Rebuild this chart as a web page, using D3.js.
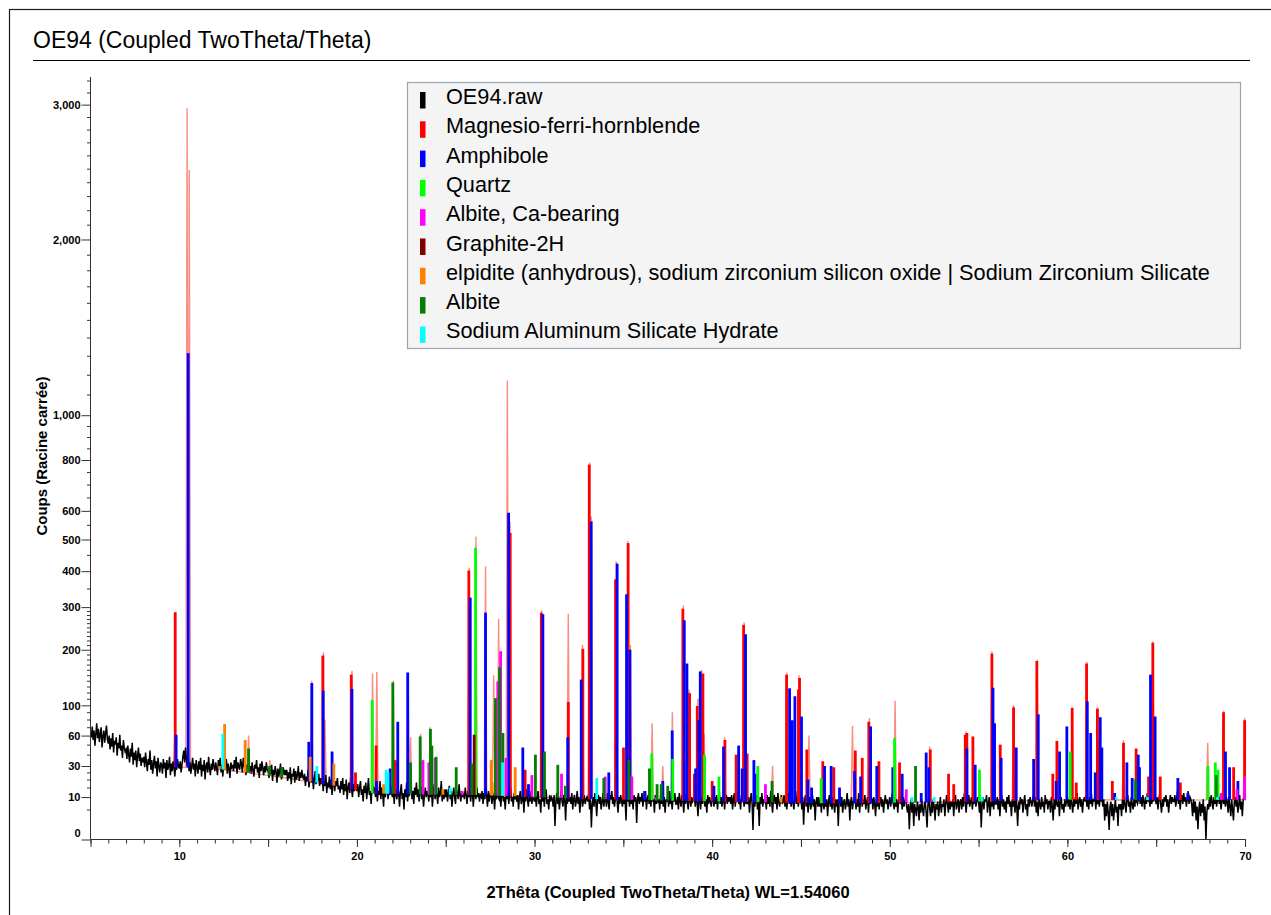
<!DOCTYPE html>
<html>
<head>
<meta charset="utf-8">
<script src="https://cdn.jsdelivr.net/npm/d3@7"></script>
<style>
  html, body { margin: 0; padding: 0; background: #ffffff; }
  svg { display: block; font-family: "Liberation Sans", Arial, Helvetica, sans-serif; }
</style>
</head>
<body>
<svg id="chart" width="1271" height="915"></svg>
<script>
// ---------------------------------------------------------------------------
// Scan OE94.raw : one row of counts per degree 2θ, starting at 5°
// (points are spread evenly across their degree)
// ---------------------------------------------------------------------------
const rawFirstDegree = 5;
const rawRows = [
  [64,58,71,55,66,49,62,75,57,68,53,61,70,47,59,66,52,63,72,56],
  [51,60,45,57,48,63,42,54,50,58,39,52,46,61,44,49,37,55,47,43],
  [45,36,49,40,33,46,38,52,31,42,35,44,29,39,47,34,41,30,37,33],
  [38,29,42,33,26,36,31,44,27,35,24,32,39,28,34,22,37,30,25,33],
  [31,24,36,28,33,21,35,27,30,38,23,32,26,34,29,22,33,27,36,30],
  [28,34,25,31,38,44,33,47,36,29,41,26,33,24,30,37,27,32,22,35],
  [29,24,34,27,37,22,31,26,35,20,30,33,25,38,28,23,32,27,36,30],
  [26,33,28,23,35,29,37,25,31,22,34,27,30,36,24,32,28,21,33,29],
  [31,26,35,28,38,24,33,30,27,36,32,25,37,29,34,23,31,28,35,27],
  [30,24,33,27,22,31,28,35,25,29,21,32,26,34,28,23,30,25,33,27],
  [26,21,29,24,31,19,27,23,30,25,18,28,22,26,32,20,25,29,23,27],
  [23,27,19,25,21,29,17,24,22,28,18,26,20,23,30,19,25,21,27,22],
  [20,24,16,22,19,27,15,21,25,18,23,14,20,26,17,22,19,24,16,21],
  [17,21,13,19,16,23,12,18,15,22,14,20,11,17,24,13,19,16,21,14],
  [16,12,19,14,21,11,17,13,20,9,15,18,12,22,14,10,17,13,19,15],
  [13,17,10,15,19,11,14,8,16,12,18,9,14,21,11,13,7,16,12,15],
  [14,10,17,8,13,11,19,9,15,12,6,16,10,14,18,9,13,11,16,12],
  [10,14,7,16,11,9,15,12,6,13,17,9,12,5,14,10,18,8,13,11],
  [12,16,9,13,7,15,11,18,10,14,8,12,16,9,13,6,11,15,10,13],
  [11,8,15,10,13,6,12,17,9,14,11,7,15,10,12,19,8,13,9,14],
  [10,14,8,12,16,9,13,6,11,15,10,7,14,12,9,17,11,8,13,10],
  [12,9,15,11,7,13,10,16,8,12,14,6,11,13,9,15,10,12,8,11],
  [10,13,7,12,9,15,11,6,13,8,11,14,7,10,12,5,11,9,13,10],
  [9,12,6,11,14,8,10,5,12,9,13,7,11,15,8,10,6,12,9,11],
  [8,11,5,10,13,7,9,12,4,10,8,14,9,6,11,8,13,7,10,9],
  [8,11,6,10,13,7,9,4,11,8,12,6,10,14,7,9,5,11,8,10],
  [9,6,11,1,8,12,7,10,5,9,13,8,6,11,9,2,10,7,12,8],
  [10,7,12,5,9,11,6,8,13,7,10,4,9,12,6,8,11,7,9,10],
  [8,11,5,9,0.8,7,10,6,12,8,3,9,11,7,10,5,8,12,6,9],
  [10,6,12,8,5,11,9,13,7,10,6,9,12,8,4,10,7,11,8,6],
  [11,7,9,2,12,8,10,6,13,7,9,5,11,8,10,1.5,9,12,7,10],
  [8,12,6,10,8,13,5,9,11,7,10,6,12,8,9,4,11,7,10,8],
  [9,5,11,7,12,6,10,4,9,8,11,6,13,7,9,5,10,8,12,7],
  [7,10,5,12,8,6,11,9,4,10,7,12,8,5,9,11,6,10,8,9],
  [10,6,12,8,3,9,11,5,10,7,13,8,6,9,4,11,7,10,8,6],
  [9,12,6,10,7,11,5,9,13,7,10,6,8,12,5,9,11,7,10,8],
  [10,7,11,5,9,12,6,10,8,13,7,9,5,11,8,10,6,12,7,9],
  [7,10,4,9,12,7,0.5,10,6,9,11,5,8,1,10,7,12,6,9,8],
  [9,5,11,7,10,6,13,8,4,9,11,7,10,5,12,8,6,9,11,7],
  [8,11,6,10,5,9,12,7,10,6,11,8,5,9,13,7,10,6,9,8],
  [9,5,10,1.2,8,11,6,9,4,8,10,5,7,11,6,9,2,8,10,6],
  [10,6,9,4,11,7,5,10,6,9,3,8,11,6,9,5,10,7,4,9],
  [6,9,1,8,11,6,10,4,8,9,5,7,12,6,9,2,8,10,5,8],
  [8,11,5,9,6,12,4,8,10,6,9,7,11,5,8,10,4,9,7,10],
  [9,5,10,7,3,9,6,11,5,8,10,6,9,4,8,11,7,9,5,8],
  [10,6,9,12,7,5,10,6,9,4,8,11,7,9,5,10,6,8,11,6],
  [4,7,0.6,6,9,4,8,1,7,5,3,8,6,2,7,4,9,5,3,7],
  [8,4,0.8,7,10,5,3,8,4,9,6,2,7,5,8,3,6,10,4,7],
  [6,9,3,7,11,7,4,10,5,8,6,9,3,8,11,5,7,9,4,8],
  [9,5,10,6,12,8,4,9,7,11,6,8,10,5,9,7,12,6,8,10],
  [8,4,9,0.8,7,10,5,9,8,11,4,7,10,3,8,6,9,5,10,7],
  [7,10,5,9,3,8,11,6,9,5,8,4,10,7,11,6,8,3,9,6],
  [9,4,10,6,1,8,5,10,7,9,4,8,11,5,7,3,9,6,10,8],
  [6,9,11,6,10,4,8,3,9,7,5,10,6,8,4,11,7,9,5,8],
  [8,4,10,6,2,9,5,11,7,6,9,3,8,10,5,7,4,9,6,8],
  [10,6,9,5,11,7,4,9,6,10,7,12,5,8,10,6,9,4,8,10],
  [8,11,6,9,5,10,7,12,6,9,8,11,5,10,7,9,6,11,8,9],
  [6,9,2,7,3,8,4,0.5,6,8,3,7,2,5,9,4,6,1,7,5],
  [7,3,9,5,10,7,4,9,11,6,8,4,10,7,5,9,6,11,8,7],
  [9,12,7,10,6,11,8,5,10,7,12,8,9,6,11,7,10,8,12,9],
  [7,10,5,9,12,7,4,9,6,10,8,11,6,9,4,8,11,7,10,8],
  [8,11,6,9,13,7,10,5,9,11,7,12,8,10,6,9,13,7,10,9],
  [7,3,9,4,8,2,6,0.6,5,8,3,7,4,9,2,6,0,4,7,5],
  [10,6,11,8,5,10,7,12,6,9,11,7,10,5,8,12,7,9,6,10],
  [8,4,10,6,3,9,5,2,8,10,6,9,4,7,11,5,8,3,9,10],
  [9]
];

// Background curve under the calculated profile and the phase sticks
const bgTheta  = [9.4, 10, 12, 14, 16, 18, 20, 21, 24, 27, 30, 33, 37, 42, 47, 50, 55, 60, 65, 70];
const bgCounts = [29, 29, 28, 24.5, 21, 17.5, 13.5, 11.8, 11.2, 11, 10, 9.2, 8.5, 7.8, 7.2, 7.5, 8, 8.8, 8.6, 8.8];

// Calculated profile peaks [2θ, counts]
const profilePeaks = [
  [9.75,68],[10.44,2970],[10.56,2490],[12.50,45],[13.90,60],[15.10,35],[17.45,140],
  [18.12,195],[18.20,80],[19.72,158],[20.88,153],[21.12,156],[22.05,140],[22.88,150],
  [23.02,58],[23.58,62],[24.12,70],[26.32,410],[26.70,510],[27.24,415],[27.70,150],
  [27.98,271],[28.47,1170],[28.62,560],[30.40,292],[31.90,283],[32.70,210],[33.10,790],
  [33.20,580],[34.60,430],[35.25,495],[35.40,210],[36.62,75],[37.22,30],[37.76,90],
  [38.38,305],[38.70,125],[39.20,110],[39.40,160],[39.55,62],[40.70,58],[41.80,262],
  [43.40,30],[44.20,155],[44.90,150],[45.45,60],[47.90,72],[48.85,82],[50.30,107],
  [52.25,48],[54.30,65],[55.75,197],[56.97,100],[58.30,180],[60.27,98],[61.10,175],
  [61.70,98],[63.16,55],[64.82,218],[67.90,52],[68.80,92],[69.98,82]
];

// Phase sticks [2θ, counts at stick top]
const hornblendeSticks = [
  [9.77,287],[18.08,188],[19.68,151],[19.92,25],[21.08,49],[22.16,35],[26.30,402],
  [28.63,522],[29.47,27],[30.38,286],[31.90,105],[32.72,202],[33.08,781],[34.56,376],
  [35.01,47],[35.27,488],[38.35,296],[38.73,119],[39.00,24],[39.16,99],[39.48,153],
  [40.00,19],[40.72,55],[41.35,40],[41.77,256],[41.97,41],[44.19,151],[44.86,125],
  [44.92,145],[45.33,45],[46.23,34],[46.85,29],[48.06,44],[48.45,37],[48.82,77],
  [49.39,34],[50.55,33],[52.28,45],[53.31,24],[53.60,17],[54.25,61],[54.34,63],
  [54.68,59],[55.75,192],[56.22,50],[56.97,97],[58.28,177],[59.18,24],[59.41,54],
  [60.27,96],[60.50,18],[61.08,172],[61.69,95],[61.74,53],[62.53,19],[63.16,52],
  [63.87,46],[64.57,22],[64.81,215],[65.23,22],[66.36,18],[68.79,90],[69.36,29],[69.98,79]
];
const amphiboleSticks = [
  [9.82,61],[10.50,1314],[17.29,53],[17.46,136],[18.10,123],[18.60,43],[19.72,126],
  [21.10,19],[21.87,28],[22.30,77],[22.86,155],[26.38,325],[27.24,286],[28.54,593],
  [29.34,47],[29.66,17],[30.47,282],[31.87,58],[32.63,142],[33.19,562],[34.18,25],
  [34.65,423],[35.18,334],[35.37,200],[36.19,13],[37.22,19],[37.75,66],[38.43,267],
  [38.58,172],[39.07,28],[39.25,79],[39.33,157],[40.10,16],[40.64,48],[41.49,49],
  [41.69,28],[41.88,234],[42.35,35],[42.42,24],[44.36,127],[44.51,79],[44.66,114],
  [45.03,84],[45.39,20],[45.60,15],[46.33,30],[46.70,30],[47.17,15],[48.02,26],
  [48.36,22],[48.92,71],[49.27,30],[50.17,29],[50.70,24],[51.77,12],[52.05,42],
  [52.20,29],[54.34,46],[54.81,31],[55.81,128],[55.90,75],[56.27,37],[57.12,47],
  [58.10,36],[58.36,87],[59.37,19],[59.56,43],[59.97,71],[61.12,106],[61.31,63],
  [61.57,25],[61.85,83],[61.94,47],[62.66,12],[63.35,33],[63.65,21],[63.99,40],
  [64.06,29],[64.68,151],[64.94,84],[66.22,21],[66.78,12],[68.90,43],[69.13,29],[69.60,19]
];
const quartzSticks = [
  [20.86,108],[26.68,473],[36.60,41],[37.78,36],[39.57,40],[40.38,22],[42.57,30],
  [46.14,21],[50.27,57],[55.05,27],[60.16,43],[67.91,30],[68.33,33],[68.48,27]
];
const albiteCaSticks = [
  [14.05,25],[23.72,35],[24.05,33],[24.40,37],[25.93,13],[27.93,139],[28.09,197],
  [28.40,37],[29.85,23],[31.52,24],[33.98,22],[35.48,22],[36.85,10],[43.00,17],
  [50.93,14],[68.66,12],[69.55,14],[69.98,22]
];
const graphiteSticks = [[26.60,61]];
const elpiditeSticks = [
  [12.26,30],[12.55,74],[13.71,55],[17.37,38],[18.70,32],[21.50,17],[24.84,14],
  [27.56,35],[27.62,18],[28.91,29],[43.88,10]
];
const albiteSticks = [
  [13.90,46],[15.08,30],[15.77,29],[22.02,137],[23.02,33],[23.56,59],[24.14,68],
  [24.22,49],[24.46,38],[25.59,29],[26.47,32],[27.80,111],[28.03,165],[28.22,63],
  [30.05,40],[30.56,43],[31.31,31],[31.74,16],[33.90,21],[35.31,35],[36.47,28],
  [36.90,17],[37.13,17],[37.50,16],[43.37,19],[51.45,30],[63.84,20],[68.38,23]
];
const nashSticks = [
  [12.45,62],[17.74,30],[21.65,27],[21.75,25],[25.25,15],[28.20,33],[33.50,21],
  [51.25,10],[52.50,10],[55.20,10],[62.75,10],[64.50,10],[68.45,10]
];

// Legend entries
const legendNames = [
  "OE94.raw",
  "Magnesio-ferri-hornblende",
  "Amphibole",
  "Quartz",
  "Albite, Ca-bearing",
  "Graphite-2H",
  "elpidite (anhydrous), sodium zirconium silicon oxide | Sodium Zirconium Silicate",
  "Albite",
  "Sodium Aluminum Silicate Hydrate"
];
const legendColors = ["#000000","#ff0000","#0000ff","#00ff00","#ff00ff","#800000","#ff8000","#008000","#00ffff"];

// Axis ticks
const xMinorTicks = d3.range(5, 71, 1);
const xMajorTicks = [5,10,15,20,25,30,35,40,45,50,55,60,65,70];
const yMajorTicks = [0,10,30,60,100,200,300,400,500,600,800,1000,2000,3000];
const yMinorTicks = [5,15,20,25,40,50,70,80,90,110,120,130,140,150,160,170,180,190,
  210,220,230,240,250,260,270,280,290,350,450,550,650,700,750,850,900,950,
  1100,1200,1300,1400,1500,1600,1700,1800,1900,2100,2200,2300,2400,2500,2600,2700,2800,2900,3100,3200];

// ---------------------------------------------------------------------------
const svg = d3.select("#chart");
const plot = { left: 90.5, right: 1245, top: 77, bottom: 839.5 };

const x = d3.scaleLinear().domain([5, 70]).range([plot.left, plot.right]);
const y = d3.scaleSqrt().domain([0, 3230]).range([plot.bottom, plot.top]);
const bg = d3.scaleLinear().domain(bgTheta).range(bgCounts).clamp(true);

// outer frame
svg.append("rect")
  .attr("x", 9.5).attr("y", 9.5).attr("width", 1400).attr("height", 1000)
  .attr("fill", "none").attr("stroke", "#1a1a1a").attr("stroke-width", 1.2);

// title + rule
svg.append("text")
  .attr("x", 33).attr("y", 48)
  .attr("font-size", 23).attr("fill", "#000")
  .text("OE94 (Coupled TwoTheta/Theta)");
svg.append("line")
  .attr("x1", 33).attr("x2", 1250).attr("y1", 60.5).attr("y2", 60.5)
  .attr("stroke", "#000").attr("stroke-width", 1);

// clip region for data
svg.append("clipPath").attr("id", "plotClip")
  .append("rect")
  .attr("x", plot.left).attr("y", plot.top - 2)
  .attr("width", plot.right - plot.left + 4).attr("height", plot.bottom - plot.top + 3);

const gData = svg.append("g").attr("clip-path", "url(#plotClip)");
const line = d3.line().x(d => x(d[0])).y(d => y(d[1]));

// calculated profile (salmon)
const hw = 0.07;
const profilePts = bgTheta.map((t, i) => [t, bgCounts[i]]);
profilePeaks.forEach(([t, c]) => {
  profilePts.push([t - hw, bg(t - hw)]);
  profilePts.push([t, c]);
  profilePts.push([t + hw, bg(t + hw)]);
});
profilePts.sort((a, b) => a[0] - b[0]);
gData.append("path")
  .datum(profilePts)
  .attr("d", line)
  .attr("fill", "none")
  .attr("stroke", "#fa8072")
  .attr("stroke-opacity", 0.9)
  .attr("stroke-width", 1.4);

// raw scan (black)
const rawPts = [];
rawRows.forEach((row, k) => {
  row.forEach((c, j) => rawPts.push([rawFirstDegree + k + j / row.length, c]));
});
gData.append("path")
  .datum(rawPts)
  .attr("d", line)
  .attr("fill", "none")
  .attr("stroke", "#000")
  .attr("stroke-width", 1.5);

// phase sticks
const phases = [
  { data: hornblendeSticks, color: legendColors[1] },
  { data: amphiboleSticks, color: legendColors[2] },
  { data: quartzSticks, color: legendColors[3] },
  { data: albiteCaSticks, color: legendColors[4] },
  { data: graphiteSticks, color: legendColors[5] },
  { data: elpiditeSticks, color: legendColors[6] },
  { data: albiteSticks, color: legendColors[7] },
  { data: nashSticks, color: legendColors[8] }
];
const stickW = 2.8;
phases.forEach(p => {
  gData.append("g")
    .selectAll("rect")
    .data(p.data)
    .join("rect")
    .attr("x", d => x(d[0]) - stickW / 2)
    .attr("y", d => y(Math.max(d[1], bg(d[0]))))
    .attr("width", stickW)
    .attr("height", d => Math.max(1.2, y(bg(d[0])) - y(Math.max(d[1], bg(d[0])))))
    .attr("fill", p.color);
});

// ---------------------------------------------------------------------------
// axes
const axisColor = "#333";
const yAxisMinor = d3.axisLeft(y).tickValues(yMinorTicks).tickSize(3.5).tickFormat("");
const yAxisMajor = d3.axisLeft(y).tickValues(yMajorTicks).tickSize(9).tickPadding(1)
  .tickFormat(d3.format(","));
const gy1 = svg.append("g").attr("transform", `translate(${plot.left},0)`).call(yAxisMinor);
const gy2 = svg.append("g").attr("transform", `translate(${plot.left},0)`).call(yAxisMajor);
[gy1, gy2].forEach(g => {
  g.select(".domain").remove();
  g.selectAll("line").attr("stroke", axisColor);
});
gy2.selectAll("text")
  .attr("font-size", 11).attr("font-weight", "bold").attr("fill", "#000")
  .attr("font-family", "'Liberation Sans', Arial, sans-serif")
  .attr("dy", d => d === 0 ? "-0.25em" : "0.34em");
svg.append("line")
  .attr("x1", plot.left).attr("x2", plot.left)
  .attr("y1", plot.top).attr("y2", plot.bottom)
  .attr("stroke", axisColor).attr("stroke-width", 1);

const xAxisMinor = d3.axisBottom(x).tickValues(xMinorTicks).tickSize(4).tickFormat("");
const xAxisMajor = d3.axisBottom(x).tickValues(xMajorTicks).tickSize(7.5).tickPadding(5)
  .tickFormat(d => d % 10 === 0 ? d : "");
const gx1 = svg.append("g").attr("transform", `translate(0,${plot.bottom})`).call(xAxisMinor);
const gx2 = svg.append("g").attr("transform", `translate(0,${plot.bottom})`).call(xAxisMajor);
[gx1, gx2].forEach(g => {
  g.select(".domain").remove();
  g.selectAll("line").attr("stroke", axisColor);
});
gx2.selectAll("text")
  .attr("font-size", 11).attr("font-weight", "bold").attr("fill", "#000")
  .attr("font-family", "'Liberation Sans', Arial, sans-serif");
svg.append("line")
  .attr("x1", plot.left).attr("x2", plot.right + 1)
  .attr("y1", plot.bottom).attr("y2", plot.bottom)
  .attr("stroke", axisColor).attr("stroke-width", 1);

// axis titles
svg.append("text")
  .attr("x", 668).attr("y", 898)
  .attr("text-anchor", "middle")
  .attr("font-size", 16.5).attr("font-weight", "bold")
  .text("2Thêta (Coupled TwoTheta/Theta) WL=1.54060");
svg.append("text")
  .attr("transform", "translate(47,456) rotate(-90)")
  .attr("text-anchor", "middle")
  .attr("font-size", 15).attr("font-weight", "bold")
  .text("Coups (Racine carrée)");

// ---------------------------------------------------------------------------
// legend
const legend = svg.append("g");
legend.append("rect")
  .attr("x", 407.5).attr("y", 82.5).attr("width", 833).attr("height", 266)
  .attr("fill", "#f4f4f4").attr("stroke", "#9aa5ad").attr("stroke-width", 1.2);
const rowH = 29.3;
const rows = legend.selectAll("g.row")
  .data(legendNames)
  .join("g")
  .attr("class", "row")
  .attr("transform", (d, i) => `translate(0,${104 + i * rowH})`);
rows.append("rect")
  .attr("x", 420).attr("y", -12).attr("width", 5.5).attr("height", 16.5)
  .attr("fill", (d, i) => legendColors[i]);
rows.append("text")
  .attr("x", 446).attr("y", 0)
  .attr("font-size", 21.7).attr("fill", "#000")
  .text(d => d);
</script>
</body>
</html>
